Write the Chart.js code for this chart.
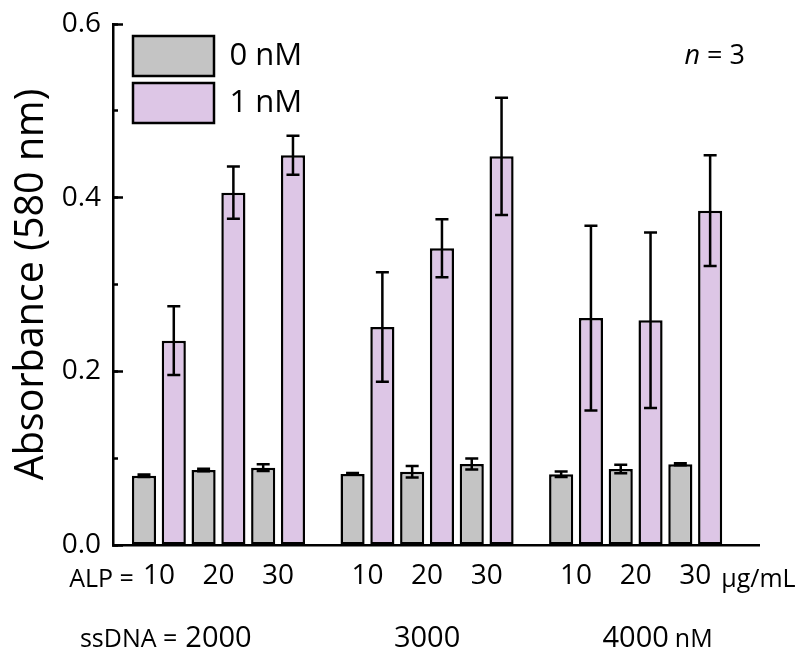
<!DOCTYPE html>
<html>
<head>
<meta charset="utf-8">
<script src="https://cdn.jsdelivr.net/npm/chart.js@4.4.0/dist/chart.umd.min.js"></script>
<style>
  html, body { margin: 0; padding: 0; background: #fff; }
</style>
</head>
<body>
<canvas id="absChart" width="805" height="653"></canvas>
<script>
// data
var ssdnaLevels = ['2000', '3000', '4000'];   // nM
var alpLevels = ['10', '20', '30'];           // ug/mL
var seriesNames = ['0 nM', '1 nM'];
var absorb0 = [0.0798, 0.0864, 0.0890, 0.0818, 0.0844, 0.0933, 0.0814, 0.0875, 0.0930];
var err0 = [0.0015, 0.0015, 0.0039, 0.0010, 0.0067, 0.0063, 0.0032, 0.0048, 0.0012];
var absorb1 = [0.2353, 0.4058, 0.4488, 0.2511, 0.3417, 0.4476, 0.2614, 0.2588, 0.3850];
var err1 = [0.0396, 0.0300, 0.0225, 0.0630, 0.0334, 0.0676, 0.1064, 0.1010, 0.0638];

var FONT = 'Open Sans';
var LINE = 2.5;
var groupStep = alpLevels.length + 0.5;   // half a slot of gap between ssDNA groups

// category slot of each bar pair: ssDNA group, then ALP level
var xPos = [];
ssdnaLevels.forEach(function(s, g) {
  alpLevels.forEach(function(a, i) { xPos.push(g * groupStep + i); });
});

function toPoints(vals) {
  return vals.map(function(v, i) { return { x: xPos[i], y: v }; });
}

var errorBars = {
  id: 'errorBars',
  afterDatasetsDraw: function(chart) {
    var ctx = chart.ctx;
    var yScale = chart.scales.y;
    ctx.save();
    ctx.strokeStyle = '#000';
    ctx.lineWidth = LINE;
    chart.data.datasets.forEach(function(ds, di) {
      var meta = chart.getDatasetMeta(di);
      meta.data.forEach(function(bar, i) {
        var v = ds.data[i].y, e = ds.errors[i];
        var top = yScale.getPixelForValue(v + e);
        var bot = yScale.getPixelForValue(v - e);
        var cap = 6.5;
        ctx.beginPath();
        ctx.moveTo(bar.x, top); ctx.lineTo(bar.x, bot);
        ctx.moveTo(bar.x - cap, top); ctx.lineTo(bar.x + cap, top);
        ctx.moveTo(bar.x - cap, bot); ctx.lineTo(bar.x + cap, bot);
        ctx.stroke();
      });
    });
    ctx.restore();
  }
};

// legend sits inside the plot, top left
var legendSpot = {
  id: 'legendSpot',
  afterLayout: function(chart) {
    var lg = chart.legend, area = chart.chartArea;
    lg.left = area.left + 13;
    lg.top = area.top + 5;
    lg.right = lg.left + lg.width;
    lg.bottom = lg.top + lg.height;
  }
};

var extraText = {
  id: 'extraText',
  afterDraw: function(chart) {
    var ctx = chart.ctx, xs = chart.scales.x, area = chart.chartArea;
    var row1 = area.bottom + 42, row2 = area.bottom + 102;
    ctx.save();
    ctx.fillStyle = '#000';
    ctx.textBaseline = 'alphabetic';

    ctx.font = '28px "' + FONT + '"';
    var firstX = xs.getPixelForValue(xPos[0]);
    var lastX = xs.getPixelForValue(xPos[xPos.length - 1]);
    var half0 = ctx.measureText(alpLevels[0]).width / 2;
    var halfN = ctx.measureText(alpLevels[alpLevels.length - 1]).width / 2;
    ctx.font = '25px "' + FONT + '"';
    ctx.textAlign = 'right';
    ctx.fillText('ALP =', firstX - half0 - 9, row1);
    ctx.textAlign = 'left';
    ctx.fillText('\u03bcg/mL', lastX + halfN + 10, row1);

    ssdnaLevels.forEach(function(s, g) {
      var cx = xs.getPixelForValue(g * groupStep + 1);
      ctx.font = '29px "' + FONT + '"';
      ctx.textAlign = 'center';
      ctx.fillText(s, cx, row2);
      var hw = ctx.measureText(s).width / 2;
      ctx.font = '25px "' + FONT + '"';
      if (g === 0) {
        ctx.textAlign = 'right';
        ctx.fillText('ssDNA =', cx - hw - 8, row2);
      }
      if (g === ssdnaLevels.length - 1) {
        ctx.textAlign = 'left';
        ctx.fillText('nM', cx + hw + 6, row2);
      }
    });

    // n = 3
    ctx.font = '27px "' + FONT + '"';
    var rest = ' = 3';
    var wRest = ctx.measureText(rest).width;
    ctx.textAlign = 'right';
    var right = area.right - 14;
    ctx.fillText(rest, right, area.top + 40);
    ctx.font = 'italic 27px "' + FONT + '"';
    ctx.fillText('n', right - wRest, area.top + 40);
    ctx.restore();
  }
};

var ctx = document.getElementById('absChart').getContext('2d');
window.absChart = new Chart(ctx, {
  type: 'bar',
  data: {
    datasets: [{
      label: seriesNames[0],
      data: toPoints(absorb0),
      errors: err0,
      backgroundColor: '#c4c4c4',
      borderColor: '#000',
      borderWidth: LINE,
      borderSkipped: false
    }, {
      label: seriesNames[1],
      data: toPoints(absorb1),
      errors: err1,
      backgroundColor: '#ddc6e6',
      borderColor: '#000',
      borderWidth: LINE,
      borderSkipped: false
    }]
  },
  options: {
    responsive: false,
    animation: false,
    devicePixelRatio: 1,
    categoryPercentage: 1,
    barPercentage: 0.81,
    layout: { padding: { left: 0, top: 24, right: 46, bottom: 0 } },
    plugins: {
      tooltip: { enabled: false },
      legend: {
        position: 'chartArea',
        align: 'start',
        labels: {
          boxWidth: 81,
          boxHeight: 40,
          padding: 7,
          color: '#000',
          font: { family: FONT, size: 31 }
        }
      }
    },
    scales: {
      x: {
        type: 'linear',
        position: 'bottom',
        min: -0.77,
        max: 10.07,
        offset: false,
        afterBuildTicks: function(s) {
          s.ticks = xPos.map(function(v) { return { value: v }; });
        },
        ticks: {
          autoSkip: false,
          maxRotation: 0,
          padding: 14,
          color: '#000',
          font: { family: FONT, size: 28 },
          callback: function(v, i) { return alpLevels[i % alpLevels.length]; }
        },
        grid: { display: false, drawTicks: false },
        border: { color: '#000', width: LINE },
        afterFit: function(s) { s.height = 108; }
      },
      y: {
        type: 'linear',
        position: 'left',
        weight: 1,
        min: 0,
        max: 0.6,
        ticks: {
          stepSize: 0.2,
          padding: 22,
          color: '#000',
          font: { family: FONT, size: 28 },
          callback: function(v) { return v.toFixed(1); }
        },
        grid: { drawOnChartArea: false, tickLength: -10, tickWidth: LINE, tickColor: '#000' },
        border: { color: '#000', width: LINE },
        title: {
          display: true,
          text: 'Absorbance (580 nm)',
          color: '#000',
          font: { family: FONT, size: 39.5 },
          padding: { top: 8, bottom: 0 }
        },
        afterFit: function(s) {
          s.width = 113;
          s.paddingTop = 0;
          s.paddingBottom = 0;
        }
      },
      yMinor: {
        type: 'linear',
        position: 'left',
        weight: 0,
        min: 0,
        max: 0.6,
        ticks: { display: false, stepSize: 0.1 },
        grid: { drawOnChartArea: false, tickLength: -5, tickWidth: LINE, tickColor: '#000' },
        border: { display: false },
        afterFit: function(s) { s.width = 0; }
      }
    }
  },
  plugins: [errorBars, legendSpot, extraText]
});
</script>
</body>
</html>
